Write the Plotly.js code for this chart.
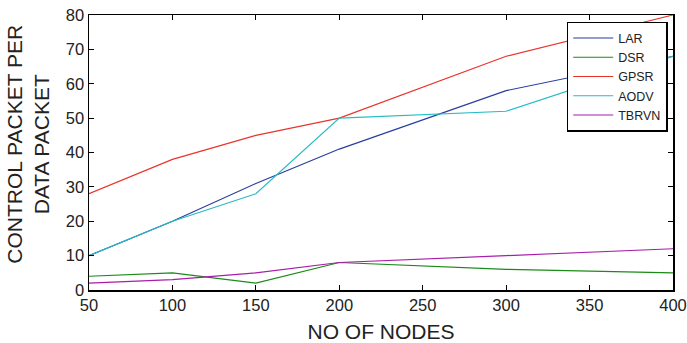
<!DOCTYPE html>
<html><head><meta charset="utf-8">
<script src="https://cdn.plot.ly/plotly-3.0.1.min.js"></script>
<style>html,body{margin:0;padding:0;background:#fff}#chart{width:687px;height:343px}</style>
</head><body><div id="chart"></div>
<script>
const nodes = [50, 100, 150, 200, 300, 400];
const lar   = [10, 20, 31, 41, 58, 68];
const dsr   = [4, 5, 2, 8, 6, 5];
const gpsr  = [28, 38, 45, 50, 68, 80];
const aodv  = [10, 20, 28, 50, 52, 68];
const tbrvn = [2, 3, 5, 8, 10, 12];
const seriesNames = ['LAR', 'DSR', 'GPSR', 'AODV', 'TBRVN'];
const seriesData = [lar, dsr, gpsr, aodv, tbrvn];
const colors = ['#2b3da0', '#1a8a1a', '#e8352b', '#25bcc4', '#a81ea8'];

const traces = seriesNames.map((n, i) => ({
  x: nodes, y: seriesData[i], name: n, type: 'scatter', mode: 'lines',
  line: {color: colors[i], width: 1.2}
}));

const FONT = 'Liberation Sans, Arial, sans-serif';
const axisCommon = {
  showgrid: false, zeroline: false, showline: true, mirror: 'ticks',
  linecolor: '#000', linewidth: 1.5, ticks: 'inside', ticklen: 5, tickcolor: '#000',
  tickfont: {family: FONT, size: 16.5, color: '#222'}
};

const layout = {
  width: 687, height: 343,
  margin: {l: 89, r: 14, t: 15, b: 53},
  paper_bgcolor: '#fff', plot_bgcolor: '#fff',
  showlegend: true,
  legend: {x: 0.818, y: 0.975, xanchor: 'left', yanchor: 'top',
    bordercolor: '#000', borderwidth: 1.5, bgcolor: '#fff',
    font: {family: FONT, size: 12.5, color: '#222'},
    itemwidth: 40, tracegroupgap: 0},
  xaxis: Object.assign({}, axisCommon, {range: [50, 400], tickvals: [50,100,150,200,250,300,350,400],
    title: {text: 'NO OF NODES', font: {family: FONT, size: 21, color: '#222'}, standoff: 14}}),
  yaxis: Object.assign({}, axisCommon, {range: [0, 80], tickvals: [0,10,20,30,40,50,60,70,80]}),
  annotations: [{
    text: 'CONTROL PACKET PER<br>DATA PACKET', textangle: -90, showarrow: false,
    xref: 'paper', yref: 'paper', x: -0.105, y: 0.531, xanchor: 'center', yanchor: 'middle',
    font: {family: FONT, size: 21, color: '#222'}
  }]
};

Plotly.newPlot('chart', traces, layout, {displayModeBar: false, staticPlot: true});
</script></body></html>
